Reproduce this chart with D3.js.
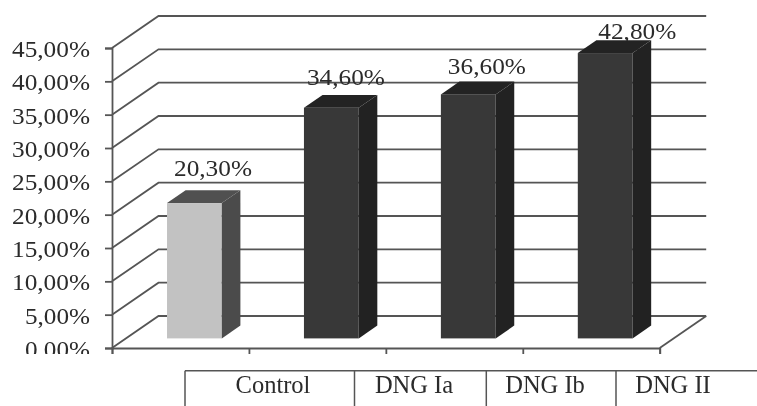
<!DOCTYPE html>
<html>
<head>
<meta charset="utf-8">
<script src="https://cdn.jsdelivr.net/npm/d3@7"></script>
<style>
  html, body { margin: 0; padding: 0; background: #fff; }
  svg { display: block; filter: blur(0.5px); }
  text { font-family: "Liberation Serif", serif; fill: #2b2b2b; }
</style>
</head>
<body>
<div class="container"></div>
<script>
const categories = ['Control', 'DNG Ia', 'DNG Ib', 'DNG II'];
const values = [20.3, 34.6, 36.6, 42.8];
const valueLabels = ['20,30%', '34,60%', '36,60%', '42,80%'];
const tickValues = [0, 5, 10, 15, 20, 25, 30, 35, 40, 45];
const tickLabels = ['0,00%', '5,00%', '10,00%', '15,00%', '20,00%', '25,00%', '30,00%', '35,00%', '40,00%', '45,00%'];

const width = 757
const height = 406
const plot = {left: 112, right: 659.7, top: 48, bottom: 348}

// how far the back wall sits from the front of the chart
const wall = {dx: 46.5, dy: -32}
const barStart = 0.3
const barDepth = 0.4

const gridColor = '#555'
const barColors = [
    {front: '#c2c2c2', side: '#4b4b4b', top: '#505050'},
    {front: '#383838', side: '#222', top: '#232323'},
    {front: '#383838', side: '#222', top: '#232323'},
    {front: '#383838', side: '#222', top: '#232323'}
]

const y = d3.scaleLinear().domain([0, 45]).range([plot.bottom, plot.top])
const x = d3.scaleBand()
    .domain(categories)
    .range([plot.left, plot.right])
    .paddingInner(0.6)
    .paddingOuter(0.3)
const edges = d3.scalePoint().domain(d3.range(5)).range([plot.left, plot.right])

const svg = d3.select('.container')
    .append('svg')
    .attr('width', width)
    .attr('height', height)

svg.append('clipPath')
    .attr('id', 'chart-clip')
    .append('rect')
    .attr('x', -plot.left)
    .attr('width', width)
    .attr('height', 354)

// Walls and floor
svg.append('g')
    .selectAll('path')
    .data(tickValues)
    .enter()
    .append('path')
    .attr('d', d => `M${plot.left},${y(d)}L${plot.left + wall.dx},${y(d) + wall.dy}L${plot.right + wall.dx},${y(d) + wall.dy}`)
    .attr('fill', 'none')
    .attr('stroke', gridColor)
    .attr('stroke-width', 1.8)

svg.append('path')
    .attr('d', `M${plot.right},${plot.bottom}L${plot.right + wall.dx},${plot.bottom + wall.dy}`)
    .attr('stroke', gridColor)
    .attr('stroke-width', 1.8)

// Axes
const yAxis = svg.append('g')
    .attr('transform', `translate(${plot.left},0)`)
    .attr('clip-path', 'url(#chart-clip)')
    .call(d3.axisLeft(y)
        .tickValues(tickValues)
        .tickFormat((d, i) => tickLabels[i])
        .tickSizeOuter(0)
        .tickSize(7)
        .tickPadding(15))

yAxis.selectAll('text')
    .attr('dy', 8.5)
    .style('font-size', '24px')
    .attr('textLength', (d, i) => i < 2 ? 65 : 78)
    .attr('lengthAdjust', 'spacingAndGlyphs')

const xAxis = svg.append('g')
    .attr('transform', `translate(0,${plot.bottom})`)
    .call(d3.axisBottom(edges)
        .tickFormat('')
        .tickSizeOuter(0)
        .tickSize(6))

svg.selectAll('.domain, .tick line')
    .attr('stroke', gridColor)
    .attr('stroke-width', 1.8)

// Value labels sit behind the bars, the last one gets cut by its bar
const labelShift = [
    {x: 0, y: -14.5},
    {x: -4, y: -10},
    {x: 0, y: -8},
    {x: 13.5, y: -1.7}
]

const barX = d => x(d) + barStart * wall.dx
const barY = d => y(d) + barStart * wall.dy
const backX = barDepth * wall.dx
const backY = barDepth * wall.dy
const base = barY(0)

svg.append('g')
    .selectAll('text')
    .data(values)
    .enter()
    .append('text')
    .attr('x', (d, i) => barX(categories[i]) + backX + x.bandwidth() / 2 + labelShift[i].x)
    .attr('y', (d, i) => barY(d) + backY + labelShift[i].y)
    .attr('text-anchor', 'middle')
    .attr('textLength', 78)
    .attr('lengthAdjust', 'spacingAndGlyphs')
    .style('font-size', '24px')
    .text((d, i) => valueLabels[i])

// Bars
const bars = svg.append('g')
    .selectAll('g')
    .data(values)
    .enter()
    .append('g')

bars.append('rect')
    .attr('x', (d, i) => barX(categories[i]))
    .attr('y', d => barY(d))
    .attr('width', x.bandwidth())
    .attr('height', d => base - barY(d))
    .attr('fill', (d, i) => barColors[i].front)

bars.append('path')
    .attr('d', (d, i) => {
        const r = barX(categories[i]) + x.bandwidth()
        return `M${r},${barY(d)}L${r + backX},${barY(d) + backY}L${r + backX},${base + backY}L${r},${base}Z`
    })
    .attr('fill', (d, i) => barColors[i].side)

bars.append('path')
    .attr('d', (d, i) => {
        const l = barX(categories[i])
        const r = l + x.bandwidth()
        return `M${l},${barY(d)}L${l + backX},${barY(d) + backY}L${r + backX},${barY(d) + backY}L${r},${barY(d)}Z`
    })
    .attr('fill', (d, i) => barColors[i].top)

// Category table under the chart
const tableLines = [185, 354.5, 486.3, 616]
const tableText = [273, 414, 545, 673]
const tableTop = 370.7

const table = svg.append('g')

table.append('line')
    .attr('x1', tableLines[0])
    .attr('x2', width)
    .attr('y1', tableTop)
    .attr('y2', tableTop)
    .attr('stroke', gridColor)
    .attr('stroke-width', 1.5)

table.selectAll('.cell-line')
    .data(tableLines)
    .enter()
    .append('line')
    .attr('class', 'cell-line')
    .attr('x1', d => d)
    .attr('x2', d => d)
    .attr('y1', tableTop)
    .attr('y2', height)
    .attr('stroke', gridColor)
    .attr('stroke-width', 1.5)

table.selectAll('.cell-text')
    .data(categories)
    .enter()
    .append('text')
    .attr('class', 'cell-text')
    .attr('x', (d, i) => tableText[i])
    .attr('y', 393)
    .attr('text-anchor', 'middle')
    .style('font-size', '24.5px')
    .text(d => d)
</script>
</body>
</html>
